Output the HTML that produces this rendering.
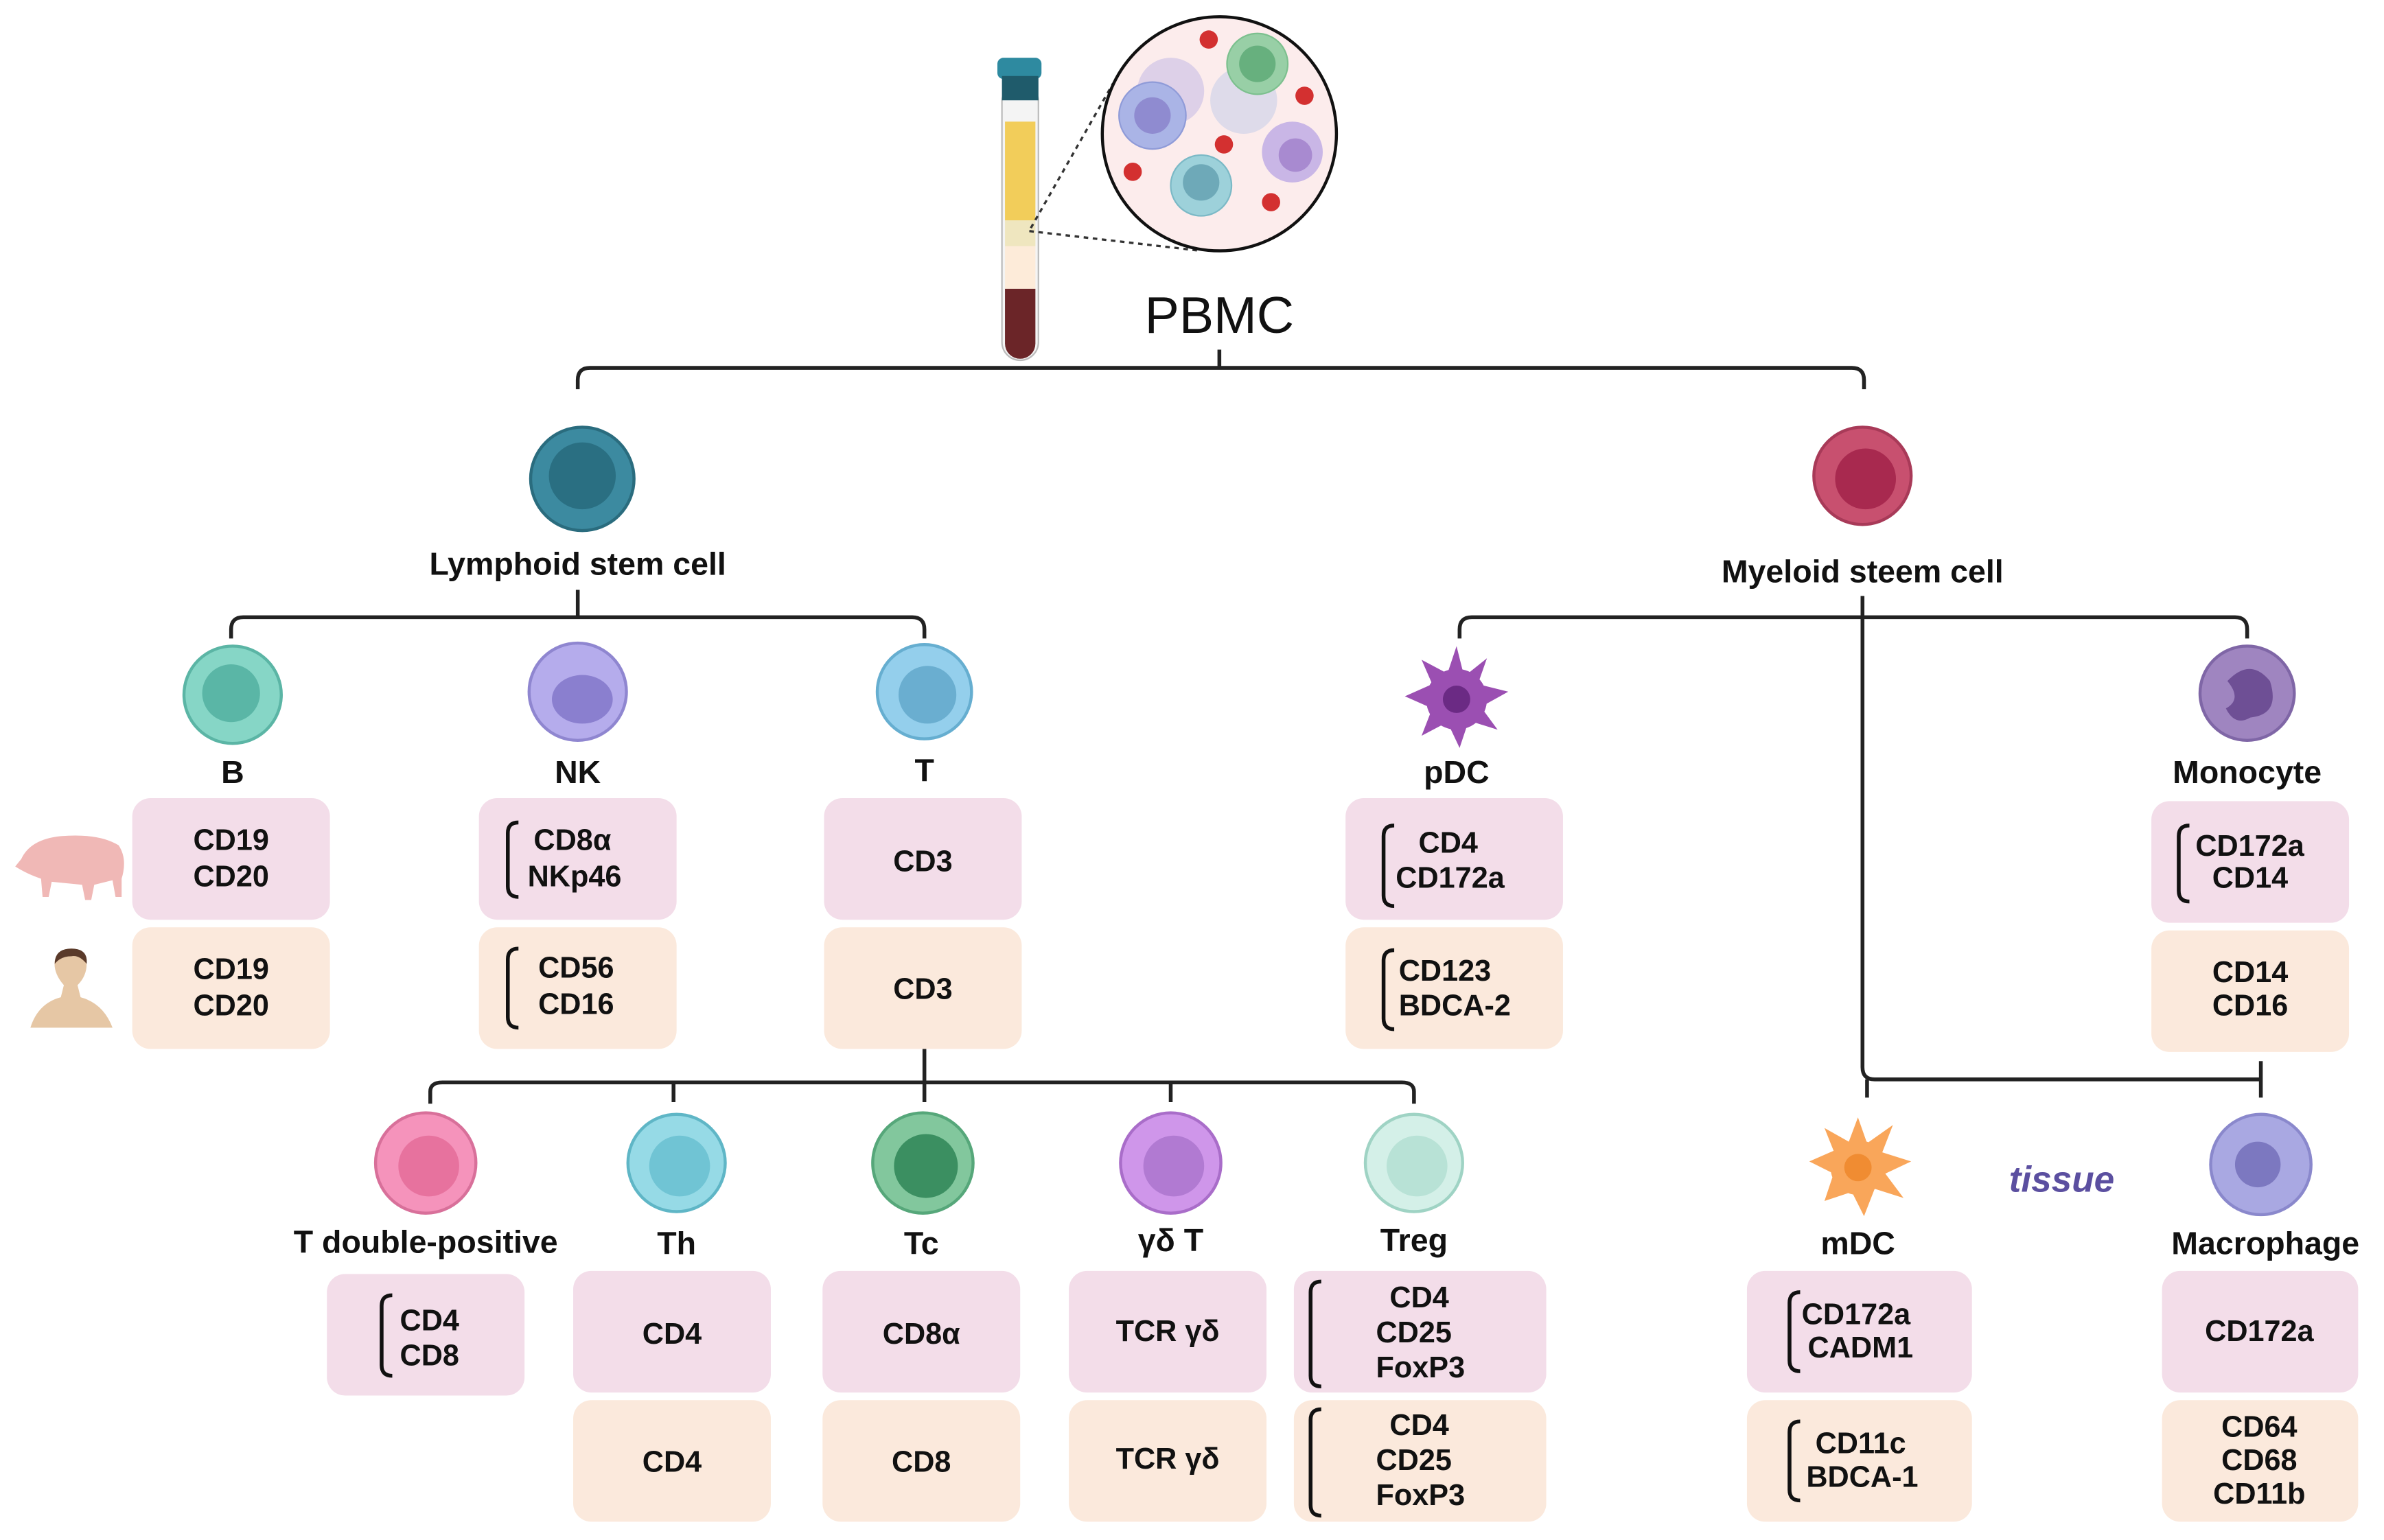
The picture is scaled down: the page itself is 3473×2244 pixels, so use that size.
<!DOCTYPE html>
<html><head><meta charset="utf-8"><style>
html,body{margin:0;padding:0;background:#fff}
svg{display:block}
text{font-family:"Liberation Sans",sans-serif;font-weight:bold;fill:#111}
</style></head><body>
<svg width="3473" height="2244" viewBox="0 0 1568 1013" preserveAspectRatio="none" xmlns="http://www.w3.org/2000/svg">
<rect width="1568" height="1013" fill="#fff"/>
<!-- tube -->
<rect x="659" y="55" width="24" height="182" rx="12" fill="#f4f4f4" stroke="#bbb" stroke-width="1"/>
<rect x="661" y="80" width="20" height="65" fill="#f2cd5a"/>
<rect x="661" y="145" width="20" height="17" fill="#efe6bf"/>
<rect x="661" y="162" width="20" height="28" fill="#fdebd9"/>
<path d="M661 190 H681 V226 A10 10 0 0 1 661 226 Z" fill="#6b2528"/>
<rect x="656" y="38" width="29" height="14" rx="4" fill="#2e8aa0"/>
<rect x="659" y="50" width="24" height="16" fill="#1f5b6b"/>
<!-- zoom circle -->
<line x1="678" y1="150" x2="732" y2="55" stroke="#333" stroke-width="1.5" stroke-dasharray="3,3"/>
<line x1="677" y1="152" x2="790" y2="165" stroke="#333" stroke-width="1.5" stroke-dasharray="3,3"/>
<ellipse cx="802" cy="88" rx="77" ry="77" fill="#fcecec" stroke="#111" stroke-width="2"/>
<circle cx="770" cy="60" r="22" fill="#ddd0e8"/>
<circle cx="758" cy="76" r="22" fill="#aab4e6" stroke="#8f9bd8"/><circle cx="758" cy="76" r="12" fill="#8f8bd0"/>
<circle cx="818" cy="66" r="22" fill="#dedbea"/>
<circle cx="827" cy="42" r="20" fill="#98cfa6" stroke="#7cc08e"/><circle cx="827" cy="42" r="12" fill="#67b07e"/>
<circle cx="850" cy="100" r="20" fill="#c9b6e6"/><circle cx="852" cy="102" r="11" fill="#a88ad0"/>
<circle cx="790" cy="122" r="20" fill="#9dd1da" stroke="#7bb9c6"/><circle cx="790" cy="120" r="12" fill="#6ea9b8"/>
<g fill="#d33030"><circle cx="795" cy="26" r="6"/><circle cx="858" cy="63" r="6"/><circle cx="805" cy="95" r="6"/><circle cx="745" cy="113" r="6"/><circle cx="836" cy="133" r="6"/></g>
<text x="802" y="219" text-anchor="middle" font-size="34" style="font-weight:normal">PBMC</text>
<!-- top bracket -->
<g fill="none" stroke="#222" stroke-width="2.5">
<path d="M802 230 V242"/>
<path d="M380 256 V250 Q380 242 388 242 H1218 Q1226 242 1226 250 V256"/>
<path d="M380 388 V406"/>
<path d="M152 420 V414 Q152 406 160 406 H600 Q608 406 608 414 V420"/>
<path d="M1225 392 V702 Q1225 710 1233 710 H1487"/>
<path d="M1487 698 V722"/>
<path d="M960 420 V414 Q960 406 968 406 H1470 Q1478 406 1478 414 V420"/>
<path d="M608 690 V712"/>
<path d="M283 726 V718 Q283 712 291 712 H922 Q930 712 930 718 V726"/>
<path d="M443 712 V725 M770 712 V725 M608 712 V725"/>
<path d="M1228 710 V722"/>
</g>
<!-- stem cells -->
<circle cx="383" cy="315" r="34" fill="#3c8aa0" stroke="#2a6c7e" stroke-width="2"/><circle cx="383" cy="313" r="22" fill="#2a6f82"/>
<circle cx="1225" cy="313" r="32" fill="#c8506f" stroke="#a83a58" stroke-width="2"/><circle cx="1227" cy="315" r="20" fill="#a8294f"/>
<text x="380" y="378" text-anchor="middle" font-size="21">Lymphoid stem cell</text>
<text x="1225" y="383" text-anchor="middle" font-size="21">Myeloid steem cell</text>
<!-- row 1 cells -->
<circle cx="153" cy="457" r="32" fill="#86d6c6" stroke="#5bb5a5" stroke-width="2"/><circle cx="152" cy="456" r="19" fill="#5ab6a6"/>
<circle cx="380" cy="455" r="32" fill="#b5acec" stroke="#8f86d0" stroke-width="2"/><ellipse cx="383" cy="460" rx="20" ry="16" fill="#8a7fcf"/>
<circle cx="608" cy="455" r="31" fill="#94cfec" stroke="#66aed0" stroke-width="2"/><circle cx="610" cy="457" r="19" fill="#6aaed0"/>
<g fill="#9b4fb2"><circle cx="958" cy="460" r="20"/><circle cx="958" cy="460" r="10" fill="#6b2a84"/>
<path d="M958 425 L963 445 L978 433 L972 450 L992 455 L974 465 L985 480 L966 474 L960 492 L952 475 L935 484 L942 466 L924 458 L942 450 L935 434 L952 443 Z"/></g>
<circle cx="958" cy="460" r="9" fill="#6b2a84"/>
<circle cx="1478" cy="456" r="31" fill="#9f85c0" stroke="#7f66a6" stroke-width="2"/><path d="M1465 448 Q1480 432 1493 448 Q1500 470 1480 472 Q1470 478 1464 466 Q1475 460 1465 448Z" fill="#6e4f95"/>
<g text-anchor="middle" font-size="21">
<text x="153" y="515">B</text><text x="380" y="515">NK</text><text x="608" y="514">T</text>
<text x="958" y="515">pDC</text><text x="1478" y="515">Monocyte</text>
</g>
<!-- row1 boxes -->
<g fill="#f3dde9">
<rect x="87" y="525" width="130" height="80" rx="12"/><rect x="315" y="525" width="130" height="80" rx="12"/>
<rect x="542" y="525" width="130" height="80" rx="12"/><rect x="885" y="525" width="143" height="80" rx="12"/>
<rect x="1415" y="527" width="130" height="80" rx="12"/>
<rect x="215" y="838" width="130" height="80" rx="12"/><rect x="377" y="836" width="130" height="80" rx="12"/>
<rect x="541" y="836" width="130" height="80" rx="12"/><rect x="703" y="836" width="130" height="80" rx="12"/>
<rect x="851" y="836" width="166" height="80" rx="12"/><rect x="1149" y="836" width="148" height="80" rx="12"/>
<rect x="1422" y="836" width="129" height="80" rx="12"/>
</g>
<g fill="#fbe9dc">
<rect x="87" y="610" width="130" height="80" rx="12"/><rect x="315" y="610" width="130" height="80" rx="12"/>
<rect x="542" y="610" width="130" height="80" rx="12"/><rect x="885" y="610" width="143" height="80" rx="12"/>
<rect x="1415" y="612" width="130" height="80" rx="12"/>
<rect x="377" y="921" width="130" height="80" rx="12"/><rect x="541" y="921" width="130" height="80" rx="12"/>
<rect x="703" y="921" width="130" height="80" rx="12"/><rect x="851" y="921" width="166" height="80" rx="12"/>
<rect x="1149" y="921" width="148" height="80" rx="12"/><rect x="1422" y="921" width="129" height="80" rx="12"/>
</g>
<!-- brackets -->
<g fill="none" stroke="#111" stroke-width="2.5">
<path d="M341 541 Q334 541 334 548 V583 Q334 590 341 590"/>
<path d="M341 624 Q334 624 334 631 V669 Q334 676 341 676"/>
<path d="M917 543 Q910 543 910 550 V589 Q910 596 917 596"/>
<path d="M917 625 Q910 625 910 632 V670 Q910 677 917 677"/>
<path d="M1440 543 Q1433 543 1433 550 V586 Q1433 593 1440 593"/>
<path d="M258 852 Q251 852 251 859 V898 Q251 905 258 905"/>
<path d="M869 843 Q862 843 862 850 V905 Q862 912 869 912"/>
<path d="M869 927 Q862 927 862 934 V990 Q862 997 869 997"/>
<path d="M1184 850 Q1177 850 1177 857 V895 Q1177 902 1184 902"/>
<path d="M1184 935 Q1177 935 1177 942 V980 Q1177 987 1184 987"/>
</g>
<!-- box text -->
<g font-size="19.5" text-anchor="middle">
<text x="152" y="559">CD19</text><text x="152" y="583">CD20</text>
<text x="152" y="644">CD19</text><text x="152" y="668">CD20</text>
<text x="607" y="573">CD3</text><text x="607" y="657">CD3</text>
<text x="1480" y="646">CD14</text><text x="1480" y="668">CD16</text>
<text x="442" y="884">CD4</text><text x="442" y="968">CD4</text>
<text x="606" y="884">CD8α</text><text x="606" y="968">CD8</text>
<text x="768" y="882">TCR γδ</text><text x="768" y="966">TCR γδ</text>
<text x="1486" y="882">CD172a</text>
<text x="1486" y="945">CD64</text><text x="1486" y="967">CD68</text><text x="1486" y="989">CD11b</text>
</g>
<g font-size="19.5" text-anchor="start">
<text x="351" y="559">CD8α</text><text x="347" y="583">NKp46</text>
<text x="354" y="643">CD56</text><text x="354" y="667">CD16</text>
<text x="933" y="561">CD4</text><text x="918" y="584">CD172a</text>
<text x="920" y="645">CD123</text><text x="920" y="668">BDCA-2</text>
<text x="1444" y="563">CD172a</text><text x="1455" y="584">CD14</text>
<text x="263" y="875">CD4</text><text x="263" y="898">CD8</text>
<text x="914" y="860">CD4</text><text x="905" y="883">CD25</text><text x="905" y="906">FoxP3</text>
<text x="914" y="944">CD4</text><text x="905" y="967">CD25</text><text x="905" y="990">FoxP3</text>
<text x="1185" y="871">CD172a</text><text x="1189" y="893">CADM1</text>
<text x="1194" y="956">CD11c</text><text x="1188" y="978">BDCA-1</text>
</g>
<!-- row 2 cells -->
<circle cx="280" cy="765" r="33" fill="#f593bb" stroke="#d8709a" stroke-width="2"/><circle cx="282" cy="767" r="20" fill="#e7729e"/>
<circle cx="445" cy="765" r="32" fill="#96dae6" stroke="#5fb6c6" stroke-width="2"/><circle cx="447" cy="767" r="20" fill="#70c4d4"/>
<circle cx="607" cy="765" r="33" fill="#82c79d" stroke="#56a77a" stroke-width="2"/><circle cx="609" cy="767" r="21" fill="#3b8f61"/>
<circle cx="770" cy="765" r="33" fill="#cf96ea" stroke="#a96dc9" stroke-width="2"/><circle cx="772" cy="767" r="20" fill="#b17ad2"/>
<circle cx="930" cy="765" r="32" fill="#d4f0e8" stroke="#9fd3c4" stroke-width="2"/><circle cx="932" cy="767" r="20" fill="#b8e2d6"/>
<g fill="#f9a65a"><circle cx="1222" cy="768" r="18"/>
<path d="M1222 735 L1228 752 L1245 740 L1238 758 L1257 764 L1240 772 L1252 788 L1233 782 L1226 800 L1218 784 L1200 790 L1206 772 L1190 764 L1206 757 L1200 742 L1216 751 Z"/></g>
<circle cx="1222" cy="768" r="9" fill="#f08c32"/>
<circle cx="1487" cy="766" r="33" fill="#a9a8e2" stroke="#8a88cc" stroke-width="2"/><circle cx="1485" cy="766" r="15" fill="#7c78c0"/>
<g text-anchor="middle" font-size="21">
<text x="280" y="824">T double-positive</text><text x="445" y="825">Th</text><text x="606" y="825">Tc</text>
<text x="770" y="823">γδ T</text><text x="930" y="823">Treg</text><text x="1222" y="825">mDC</text><text x="1490" y="825">Macrophage</text>
</g>
<text x="1356" y="784" text-anchor="middle" font-size="24" font-style="italic" style="fill:#5b4fa0;font-weight:bold">tissue</text>
<!-- pig -->
<path d="M14 565 Q20 552 40 550 Q65 548 78 556 Q84 565 80 578 L80 590 L76 590 L74 579 L62 582 L60 592 L56 592 L54 582 L34 580 L32 590 L28 590 L27 578 Q18 575 10 570 Z" fill="#f0b8b6"/>
<!-- human -->
<path d="M20 676 Q25 660 40 656 L42 648 Q35 640 36 632 Q38 624 47 624 Q56 624 57 634 Q57 642 51 648 L53 656 Q68 660 74 676 Z" fill="#e6c7a5"/>
<path d="M36 634 Q36 624 47 624 Q58 624 57 634 Q52 628 47 629 Q40 629 36 634 Z" fill="#5a3a2a"/>
</svg>
</body></html>
